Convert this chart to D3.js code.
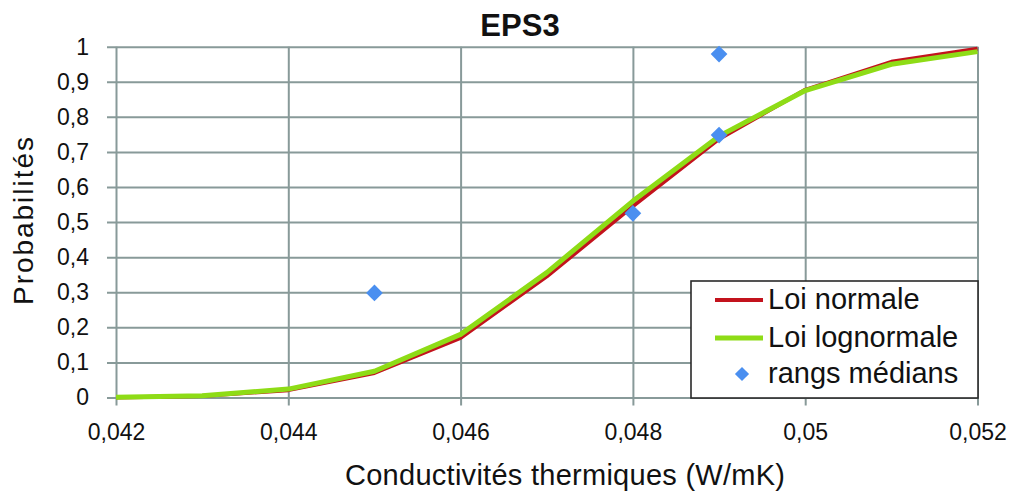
<!DOCTYPE html>
<html>
<head>
<meta charset="utf-8">
<script src="https://cdn.jsdelivr.net/npm/d3@7"></script>
<style>
  html, body { margin: 0; padding: 0; background: #fff; }
  svg { display: block; font-family: "Liberation Sans", Arial, sans-serif; }
</style>
</head>
<body>
<svg id="chart" width="1015" height="496"></svg>
<script>
// Conductivity values (W/mK) where both fitted distributions are evaluated
const conductivities = [0.042, 0.043, 0.044, 0.045, 0.046, 0.047, 0.048, 0.049, 0.050, 0.051, 0.052];
// Cumulative probability, normal fit
const normalCdf = [0.000, 0.004, 0.021, 0.070, 0.170, 0.345, 0.545, 0.737, 0.877, 0.957, 0.994];
// Cumulative probability, lognormal fit
const lognormalCdf = [0.001, 0.005, 0.024, 0.075, 0.180, 0.356, 0.560, 0.745, 0.875, 0.950, 0.986];
// Median ranks of the measured samples
const medianX = [0.045, 0.048, 0.049, 0.049];
const medianY = [0.298, 0.525, 0.748, 0.979];

const xTicks = [0.042, 0.044, 0.046, 0.048, 0.050, 0.052];
const xTickLabels = ["0,042", "0,044", "0,046", "0,048", "0,05", "0,052"];
const yTicks = [0, 0.1, 0.2, 0.3, 0.4, 0.5, 0.6, 0.7, 0.8, 0.9, 1];
const yTickLabels = ["0", "0,1", "0,2", "0,3", "0,4", "0,5", "0,6", "0,7", "0,8", "0,9", "1"];

const seriesNames = ["Loi normale", "Loi lognormale", "rangs médians"];
const titleText = "EPS3";
const xTitle = "Conductivités thermiques (W/mK)";
const yTitle = "Probabilités";

const svg = d3.select("#chart");
const plotLeft = 116, plotRight = 977.5, plotTop = 46.7, plotBottom = 397.5;
const plotW = plotRight - plotLeft, plotH = plotBottom - plotTop;

const x = d3.scaleLinear().domain([0.042, 0.052]).range([plotLeft, plotRight]);
const y = d3.scaleLinear().domain([0, 1]).range([plotBottom, plotTop]);

const gridColor = "#889a99";
const redColor = "#c3131d";
const greenColor = "#8edc16";
const blueColor = "#4a8ff0";

// Horizontal gridlines + y ticks (ticks poke out left of the axis)
const yAxis = d3.axisLeft(y)
  .tickValues(yTicks)
  .tickFormat((d, i) => yTickLabels[i])
  .tickSizeInner(-plotW)
  .tickSizeOuter(0)
  .tickPadding(27);
const gy = svg.append("g").attr("transform", `translate(${plotLeft},0)`).call(yAxis);
gy.select(".domain").remove();
gy.selectAll(".tick line").attr("x1", -9).attr("x2", plotW)
  .attr("stroke", gridColor).attr("stroke-width", 2);
gy.selectAll(".tick text").attr("font-size", 23).attr("fill", "#111")
  .attr("font-family", "Liberation Sans, Arial, sans-serif");

// Vertical gridlines + x ticks
const xAxis = d3.axisBottom(x)
  .tickValues(xTicks)
  .tickFormat((d, i) => xTickLabels[i])
  .tickSizeInner(-plotH)
  .tickSizeOuter(0)
  .tickPadding(26);
const gx = svg.append("g").attr("transform", `translate(0,${plotBottom})`).call(xAxis);
gx.select(".domain").remove();
gx.selectAll(".tick line").attr("y1", 8).attr("y2", -plotH)
  .attr("stroke", gridColor).attr("stroke-width", 2);
gx.selectAll(".tick text").attr("font-size", 23).attr("fill", "#111")
  .attr("font-family", "Liberation Sans, Arial, sans-serif");

// Distribution curves
const line = d3.line().x((d, i) => x(conductivities[i])).y(d => y(d));
svg.append("path").datum(normalCdf).attr("d", line)
  .attr("fill", "none").attr("stroke", redColor).attr("stroke-width", 4)
  .attr("stroke-linejoin", "round");
svg.append("path").datum(lognormalCdf).attr("d", line)
  .attr("fill", "none").attr("stroke", greenColor).attr("stroke-width", 5)
  .attr("stroke-linejoin", "round");

// Median-rank markers (square rotated into a diamond)
const diamond = d3.symbol().type(d3.symbolSquare).size(140);
svg.append("g").selectAll("path").data(medianX).join("path")
  .attr("d", diamond)
  .attr("transform", (d, i) => `translate(${x(d)},${y(medianY[i])}) rotate(45)`)
  .attr("fill", blueColor);

// Title
svg.append("text").attr("x", 520).attr("y", 36).attr("text-anchor", "middle")
  .attr("font-size", 31).attr("font-weight", "bold").attr("fill", "#111")
  .text(titleText);

// Axis titles
svg.append("text").attr("x", 565).attr("y", 485).attr("text-anchor", "middle")
  .attr("font-size", 29).attr("fill", "#111")
  .attr("textLength", 440).attr("lengthAdjust", "spacing")
  .text(xTitle);
svg.append("text").attr("transform", "translate(33,221) rotate(-90)")
  .attr("text-anchor", "middle").attr("font-size", 28).attr("fill", "#111")
  .attr("textLength", 168).attr("lengthAdjust", "spacing")
  .text(yTitle);

// Legend
const lg = svg.append("g");
lg.append("rect").attr("x", 691).attr("y", 281).attr("width", 287).attr("height", 117)
  .attr("fill", "#fff").attr("stroke", "#2a2a2a").attr("stroke-width", 1.6);
const legendRows = [
  { name: seriesNames[0], kind: "line", color: redColor, w: 4, cy: 300, base: 309 },
  { name: seriesNames[1], kind: "line", color: greenColor, w: 5, cy: 338, base: 347 },
  { name: seriesNames[2], kind: "marker", color: blueColor, cy: 374, base: 383 }
];
legendRows.forEach(r => {
  if (r.kind === "line") {
    lg.append("line").attr("x1", 715).attr("x2", 763).attr("y1", r.cy).attr("y2", r.cy)
      .attr("stroke", r.color).attr("stroke-width", r.w);
  } else {
    lg.append("path").attr("d", d3.symbol().type(d3.symbolSquare).size(100)())
      .attr("transform", `translate(742,${r.cy}) rotate(45)`).attr("fill", r.color);
  }
  lg.append("text").attr("x", 768).attr("y", r.base).attr("font-size", 29)
    .attr("fill", "#111").text(r.name);
});
</script>
</body>
</html>
